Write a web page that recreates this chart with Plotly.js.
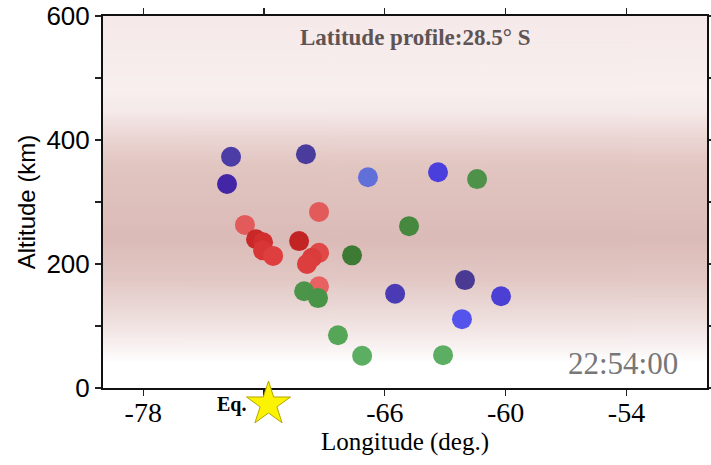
<!DOCTYPE html>
<html>
<head>
<meta charset="utf-8">
<script src="https://cdn.plot.ly/plotly-3.0.1.min.js"></script>
<style>html,body{margin:0;padding:0;background:#fff;}#chart{width:711px;height:465px;}</style>
</head>
<body>
<div id="chart"></div>
<script>
// ---- data (longitude in deg, altitude in km) ----
const blueLon = [-73.64, -73.84, -69.92, -66.84, -63.36, -65.49, -62.02, -60.23, -62.17];
const blueAlt = [373, 329, 377, 340, 348, 152, 174, 148, 111];

const greenLon = [-61.42, -64.80, -67.63, -70.01, -69.32, -68.33, -67.13, -63.11];
const greenAlt = [337, 261, 214, 156, 145, 85, 52, 53];

const redLon = [-72.95, -69.27, -72.40, -72.05, -72.05, -71.55, -70.26, -69.27, -69.62, -69.87, -69.27];
const redAlt = [263, 284, 240, 235, 222, 213, 237, 218, 210, 200, 164];

const quakeLon = [-71.78];
const quakeAlt = [-26];

const xTickVals = [-78, -72, -66, -60, -54];
const xTickText = ['-78', '', '-66', '-60', '-54'];
const yTickVals = [0, 100, 200, 300, 400, 500, 600];
const yTickText = ['0', '', '200', '', '400', '', '600'];

const titleText = 'Latitude profile:28.5° S';
const timeText = '22:54:00';

// ---- styles ----
const blueColors = ['#4b3ca6', '#4226a5', '#4a3c9c', '#6070d8', '#4a3edc', '#4a3ab4', '#4a3a94', '#4c40d4', '#5454ec'];
const greenColors = ['#4d9248', '#45883e', '#3d7a34', '#4b944a', '#4a9448', '#55a656', '#5cae62', '#5cae62'];
const redColors = ['#e35a5a', '#e35a5a', '#c92828', '#d22e2e', '#d83636', '#de3e3e', '#c22424', '#e04848', '#da3c3c', '#dc3e3e', '#e86262'];

// geometry: main frame from y=16px to y=388px; a thin strip below it holds the epicentre star
const W = 711, H = 465, MT = 16, MB = 40, FRAME_BOTTOM = 388;
const plotH = H - MT - MB;
const mainBottomFrac = (H - MB - FRAME_BOTTOM) / plotH;
const kmPerPx = 600 / (FRAME_BOTTOM - MT);
const stripMinKm = -(H - MB - FRAME_BOTTOM) * kmPerPx;

// background gradient (altitude-based)
function gradientImage() {
  const c = document.createElement('canvas');
  c.width = 4; c.height = 600;
  const g = c.getContext('2d');
  const grad = g.createLinearGradient(0, 0, 0, 600);
  const stops = [
    [600, '#f6e9e9'], [480, '#f8efef'], [445, '#f5e9e9'], [405, '#ebd6d4'],
    [360, '#e2c6c2'], [300, '#dec0bc'], [240, '#dbbbb7'], [175, '#e2c8c5'],
    [120, '#ecdcda'], [75, '#f7eeee'], [40, '#ffffff'], [0, '#ffffff']
  ];
  stops.forEach(s => grad.addColorStop((600 - s[0]) / 600, s[1]));
  g.fillStyle = grad;
  g.fillRect(0, 0, 4, 600);
  return c.toDataURL('image/png');
}

const markerBase = {size: 20, line: {width: 0}};

const traces = [
  {x: redLon, y: redAlt, type: 'scatter', mode: 'markers', name: 'red',
   marker: Object.assign({}, markerBase, {color: redColors})},
  {x: greenLon, y: greenAlt, type: 'scatter', mode: 'markers', name: 'green',
   marker: Object.assign({}, markerBase, {color: greenColors})},
  {x: blueLon, y: blueAlt, type: 'scatter', mode: 'markers', name: 'blue',
   marker: Object.assign({}, markerBase, {color: blueColors})},
  {x: quakeLon, y: quakeAlt, type: 'scatter', mode: 'markers', name: 'Eq.',
   xaxis: 'x', yaxis: 'y2', cliponaxis: false,
   marker: {symbol: 'star', size: 33, color: '#fbf300', line: {color: '#b5a400', width: 1}}}
];

const axisCommon = {
  showgrid: false, zeroline: false, showline: true, linecolor: '#111', linewidth: 2,
  mirror: 'ticks', ticks: 'outside', ticklen: 6, tickwidth: 1.2, tickcolor: '#222'
};

const layout = {
  width: W, height: H,
  margin: {l: 103, r: 4, t: MT, b: MB},
  paper_bgcolor: '#ffffff',
  plot_bgcolor: 'rgba(0,0,0,0)',
  showlegend: false,
  xaxis: Object.assign({}, axisCommon, {
    range: [-80, -50], anchor: 'y', tickmode: 'array', tickvals: xTickVals, ticktext: xTickText,
    ticklabelstandoff: -8,
    tickfont: {family: 'Liberation Serif', size: 28, color: '#000'},
    title: {text: 'Longitude (deg.)', font: {family: 'Liberation Serif', size: 25, color: '#000'}, standoff: 4}
  }),
  yaxis: Object.assign({}, axisCommon, {
    range: [0, 600], domain: [mainBottomFrac, 1], tickmode: 'array', tickvals: yTickVals, ticktext: yTickText,
    tickfont: {family: 'Liberation Sans', size: 26, color: '#000'},
    title: {text: 'Altitude (km)', font: {family: 'Liberation Sans', size: 24, color: '#000'}, standoff: 4}
  }),
  yaxis2: {
    domain: [0, mainBottomFrac * 0.999], range: [stripMinKm, 0], anchor: 'x',
    visible: false, showgrid: false, zeroline: false, fixedrange: true
  },
  images: [{
    source: gradientImage(), xref: 'x', yref: 'y', x: -80, y: 600, sizex: 30, sizey: 600,
    xanchor: 'left', yanchor: 'top', sizing: 'stretch', layer: 'below'
  }],
  annotations: [
    {text: '<b>' + titleText + '</b>', xref: 'x domain', yref: 'y domain', x: 0.517, y: 0.941,
     xanchor: 'center', yanchor: 'middle', showarrow: false,
     font: {family: 'Liberation Serif', size: 23, color: '#5e5454'}},
    {text: timeText, xref: 'x domain', yref: 'y domain', x: 0.955, y: 0.067,
     xanchor: 'right', yanchor: 'middle', showarrow: false,
     font: {family: 'Liberation Serif', size: 31, color: '#777777'}},
    {text: '<b>Eq.</b>', xref: 'x', yref: 'y2', x: quakeLon[0], y: quakeAlt[0], xshift: -21,
     xanchor: 'right', yanchor: 'middle', showarrow: false,
     font: {family: 'Liberation Serif', size: 20, color: '#000'}}
  ]
};

Plotly.newPlot('chart', traces, layout, {displayModeBar: false, staticPlot: true});
</script>
</body>
</html>
